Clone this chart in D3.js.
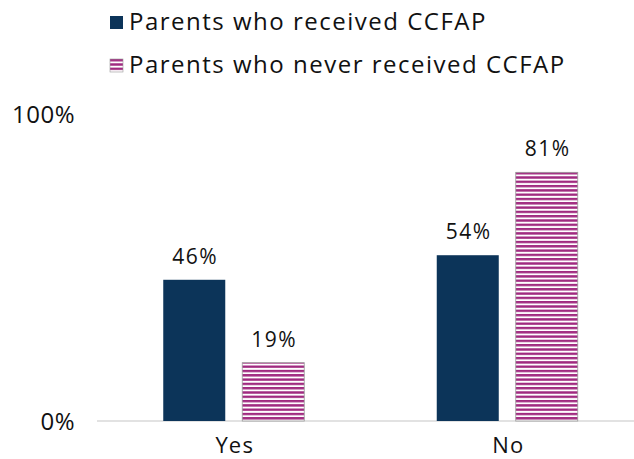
<!DOCTYPE html>
<html>
<head>
<meta charset="utf-8">
<script src="https://cdn.jsdelivr.net/npm/d3@7"></script>
<style>
  body { margin: 0; background: #fff; }
  text { font-family: "Open Sans", Lato, sans-serif; fill: #111; }
</style>
</head>
<body>
<div id="chart"></div>
<script>
// categories and series
const categories = ['Yes', 'No'];
const seriesNames = ['Parents who received CCFAP', 'Parents who never received CCFAP'];
const received = [46, 54];
const neverReceived = [19, 81];
const yTicks = [0, 100];

const width = 634, height = 459;
const margin = { top: 114, right: -10, bottom: 38, left: 97 };

const svg = d3.select('#chart').append('svg')
  .attr('width', width)
  .attr('height', height);

// stripe pattern for the "never received" bars
const defs = svg.append('defs');
const pat = defs.append('pattern')
  .attr('id', 'stripes')
  .attr('patternUnits', 'userSpaceOnUse')
  .attr('width', 8)
  .attr('height', 4.3);
pat.append('rect').attr('width', 8).attr('height', 4.3).attr('fill', '#fff');
pat.append('rect').attr('y', 0).attr('width', 8).attr('height', 2.4).attr('fill', '#a02a80');

const x = d3.scaleBand()
  .domain(categories)
  .range([margin.left, width - margin.right])
  .paddingInner(0)
  .paddingOuter(0);

const x1 = d3.scaleBand()
  .domain([0, 1])
  .range([0, 141])
  .paddingInner(0.215);

const y = d3.scaleLinear()
  .domain([0, 100])
  .range([height - margin.bottom, margin.top]);

const rows = categories.map((c, i) => ({ cat: c, vals: [received[i], neverReceived[i]] }));
const fills = ['#0c3459', 'url(#stripes)'];

// baseline
svg.append('line')
  .attr('x1', margin.left).attr('x2', width)
  .attr('y1', y(0)).attr('y2', y(0))
  .attr('stroke', '#d9d9d9')
  .attr('stroke-width', 1.5);

const groups = svg.selectAll('g.grp')
  .data(rows)
  .enter().append('g')
  .attr('class', 'grp')
  .attr('transform', d => `translate(${x(d.cat) + x.bandwidth() / 2 - 70.5},0)`);

groups.selectAll('rect')
  .data(d => d.vals.map((v, k) => ({ v, k })))
  .enter().append('rect')
  .attr('x', d => x1(d.k))
  .attr('y', d => y(d.v))
  .attr('width', x1.bandwidth())
  .attr('height', d => y(0) - y(d.v))
  .attr('fill', d => fills[d.k])
  .attr('stroke', d => d.k === 1 ? '#9a9a9a' : 'none')
  .attr('stroke-width', 0.8);

groups.selectAll('text.val')
  .data(d => d.vals.map((v, k) => ({ v, k })))
  .enter().append('text')
  .attr('class', 'val')
  .attr('x', d => x1(d.k) + x1.bandwidth() / 2 + 1)
  .attr('y', d => y(d.v) - 16)
  .attr('text-anchor', 'middle')
  .style('font-size', '21px')
  .style('letter-spacing', '1.5px')
  .text(d => d.v + '%');

// category labels
svg.selectAll('text.cat')
  .data(categories)
  .enter().append('text')
  .attr('class', 'cat')
  .attr('x', d => x(d) + x.bandwidth() / 2 + 1)
  .attr('y', 453)
  .attr('text-anchor', 'middle')
  .style('font-size', '22px')
  .style('letter-spacing', '1.2px')
  .text(d => d);

// y tick labels
svg.selectAll('text.tick')
  .data(yTicks)
  .enter().append('text')
  .attr('class', 'tick')
  .attr('x', 75)
  .attr('y', d => y(d) + 8.5)
  .attr('text-anchor', 'end')
  .style('font-size', '24px')
  .style('letter-spacing', '0.5px')
  .text(d => d + '%');

// legend
const legend = svg.selectAll('g.leg')
  .data(seriesNames)
  .enter().append('g')
  .attr('class', 'leg')
  .attr('transform', (d, i) => `translate(110,${16 + i * 43})`);

legend.append('rect')
  .attr('width', 13).attr('height', 13)
  .attr('fill', (d, i) => fills[i])
  .attr('stroke', (d, i) => i === 1 ? '#9a9a9a' : 'none')
  .attr('stroke-width', 0.6);

legend.append('text')
  .attr('x', 19)
  .attr('y', 13.5)
  .style('font-size', '24px')
  .style('letter-spacing', '1.5px')
  .text(d => d);
</script>
</body>
</html>
